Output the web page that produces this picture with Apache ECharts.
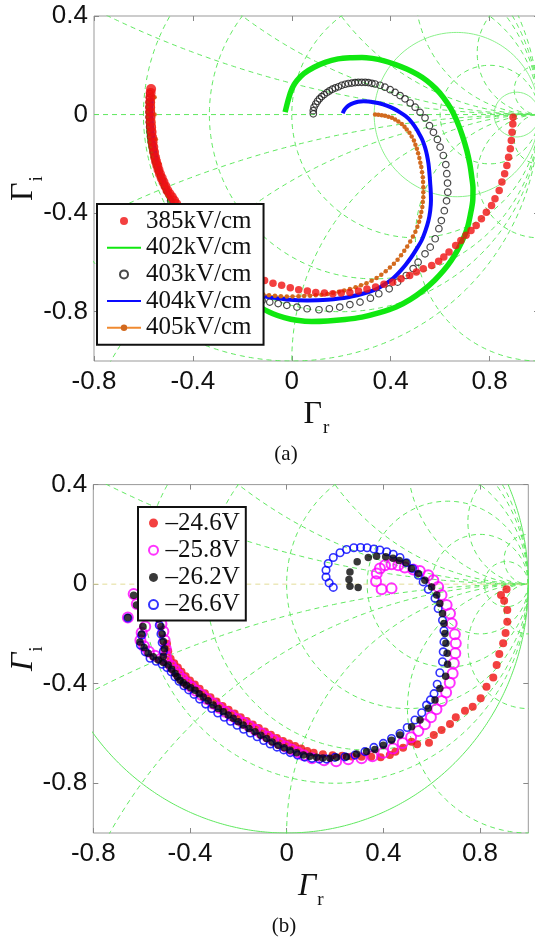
<!DOCTYPE html>
<html><head><meta charset="utf-8">
<script src="https://cdn.jsdelivr.net/npm/echarts@6/dist/echarts.min.js"></script>
<style>html,body{margin:0;padding:0;background:#fff;}#c{width:535px;height:943px;}</style>
</head><body><div id="c"></div>
<script>
// ---------- ticks / labels ----------
const xTicks = [-0.8, -0.4, 0, 0.4, 0.8];
const yTicks = [-0.8, -0.4, 0, 0.4];
const namesA = ['385kV/cm', '402kV/cm', '403kV/cm', '404kV/cm', '405kV/cm'];
const namesB = ['\u201324.6V', '\u201325.8V', '\u201326.2V', '\u201326.6V'];
const captions = ['(a)', '(b)'];
// Smith chart grid values
const smithR = [0.25, 0.5, 1, 2, 4, 10];
const smithX = [0.25, 0.5, 1, 2, 4, 10];

// ---------- panel (a) data: [Gamma_r, Gamma_i] ----------
const a385 = [[-0.569,0.104],[-0.571,0.088],[-0.572,0.07],[-0.573,0.05],[-0.573,0.03],[-0.573,0.01],[-0.572,-0.011],[-0.571,-0.031],[-0.569,-0.051],[-0.567,-0.071],[-0.565,-0.092],[-0.563,-0.112],[-0.56,-0.132],[-0.557,-0.152],[-0.553,-0.173],[-0.549,-0.19],[-0.544,-0.207],[-0.539,-0.224],[-0.533,-0.241],[-0.526,-0.258],[-0.519,-0.274],[-0.511,-0.291],[-0.503,-0.308],[-0.494,-0.322],[-0.485,-0.335],[-0.476,-0.349],[-0.467,-0.363],
[-0.44,-0.41],[-0.4,-0.47],[-0.35,-0.53],[-0.3,-0.58],[-0.25,-0.62],[-0.2,-0.648],[-0.15,-0.664],
[-0.11,-0.673],[-0.076,-0.684],[-0.041,-0.693],[-0.006,-0.703],[0.028,-0.711],[0.063,-0.716],[0.097,-0.722],[0.132,-0.724],[0.166,-0.727],[0.2,-0.724],[0.235,-0.722],[0.27,-0.716],[0.304,-0.708],[0.339,-0.7],[0.373,-0.689],[0.408,-0.68],[0.442,-0.666],[0.477,-0.653],[0.504,-0.639],[0.532,-0.626],[0.566,-0.612],[0.594,-0.595],[0.615,-0.578],[0.636,-0.558],[0.663,-0.531],[0.684,-0.511],[0.705,-0.49],[0.725,-0.47],[0.746,-0.45],[0.767,-0.423],[0.787,-0.396],[0.808,-0.369],[0.822,-0.342],[0.839,-0.308],[0.85,-0.274],[0.861,-0.24],[0.87,-0.207],[0.877,-0.173],[0.884,-0.139],[0.888,-0.105],[0.891,-0.072],[0.894,-0.038],[0.895,-0.011]];

const a402 = [[-0.576,0.06],[-0.578,0.02],[-0.578,-0.03],[-0.575,-0.092],[-0.565,-0.15],[-0.55,-0.205],[-0.53,-0.26],[-0.508,-0.31],[-0.49,-0.349],[-0.46,-0.405],[-0.42,-0.47],[-0.37,-0.545],[-0.31,-0.615],[-0.24,-0.685],[-0.17,-0.745],[-0.117,-0.788],[-0.076,-0.808],[-0.03,-0.824],[0.021,-0.835],[0.08,-0.84],[0.145,-0.838],[0.215,-0.832],[0.284,-0.822],[0.355,-0.804],[0.422,-0.781],[0.48,-0.75],[0.532,-0.713],[0.578,-0.672],[0.615,-0.632],[0.645,-0.592],[0.67,-0.551],[0.693,-0.505],[0.711,-0.457],[0.723,-0.403],[0.732,-0.349],[0.733,-0.3],[0.728,-0.254],[0.72,-0.2],[0.708,-0.146],[0.69,-0.085],[0.667,-0.024],[0.643,0.025],[0.613,0.07],[0.582,0.106],[0.546,0.138],[0.508,0.163],[0.465,0.185],[0.42,0.203],[0.37,0.219],[0.325,0.228],[0.284,0.232],[0.235,0.231],[0.187,0.226],[0.135,0.212],[0.09,0.192],[0.05,0.167],[0.021,0.138],[0.003,0.11],[-0.007,0.084],[-0.017,0.05],[-0.022,0.03],[-0.027,0.01]];

const a403 = [[0.087,0.003],[0.087,0.016],[0.09,0.03],[0.097,0.043],[0.104,0.054],[0.112,0.064],[0.121,0.073],[0.131,0.081],[0.142,0.089],[0.152,0.096],[0.164,0.103],[0.176,0.108],[0.189,0.113],[0.202,0.119],[0.216,0.123],[0.229,0.126],[0.243,0.128],[0.256,0.13],[0.269,0.131],[0.283,0.131],[0.297,0.131],[0.31,0.13],[0.324,0.127],[0.337,0.124],[0.357,0.119],[0.377,0.111],[0.398,0.101],[0.418,0.09],[0.438,0.077],[0.458,0.064],[0.479,0.047],[0.499,0.03],[0.519,0.009],[0.539,-0.013],[0.557,-0.045],[0.573,-0.072],[0.589,-0.101],[0.6,-0.132],[0.613,-0.166],[0.623,-0.203],[0.627,-0.24],[0.63,-0.278],[0.631,-0.315],[0.626,-0.35],[0.617,-0.39],[0.605,-0.43],[0.595,-0.463],[0.58,-0.504],[0.56,-0.538],[0.539,-0.565],[0.511,-0.599],[0.491,-0.625],[0.463,-0.653],[0.428,-0.68],[0.394,-0.707],[0.352,-0.727],[0.318,-0.745],[0.276,-0.761],[0.235,-0.771],[0.194,-0.781],[0.152,-0.788],[0.11,-0.792],[0.062,-0.788],[0.021,-0.781],[-0.02,-0.774],[-0.055,-0.767],[-0.089,-0.761],[-0.12,-0.755],
[-0.2,-0.72],[-0.28,-0.66],[-0.35,-0.59],[-0.41,-0.51],[-0.455,-0.43],[-0.49,-0.35],
[-0.505,-0.31],[-0.514,-0.29],[-0.522,-0.27],[-0.53,-0.25],[-0.537,-0.23],[-0.544,-0.21],[-0.55,-0.19],[-0.555,-0.17],[-0.56,-0.15],[-0.564,-0.13],[-0.568,-0.11],[-0.571,-0.09],[-0.573,-0.07],[-0.575,-0.05],[-0.576,-0.03],[-0.577,-0.01],[-0.577,0.01],[-0.577,0.03],[-0.576,0.05],[-0.575,0.068],[-0.574,0.085]];

const a404 = [[-0.566,0.07],[-0.568,0.02],[-0.566,-0.04],[-0.56,-0.1],[-0.55,-0.16],[-0.535,-0.22],[-0.515,-0.28],[-0.49,-0.34],[-0.46,-0.41],[-0.42,-0.49],[-0.36,-0.57],[-0.29,-0.64],[-0.21,-0.7],[-0.13,-0.735],[-0.089,-0.741],[-0.02,-0.75],[0.063,-0.754],[0.145,-0.751],[0.228,-0.741],[0.311,-0.72],[0.35,-0.705],[0.38,-0.686],[0.41,-0.664],[0.435,-0.639],[0.46,-0.61],[0.484,-0.578],[0.505,-0.545],[0.525,-0.511],[0.541,-0.47],[0.553,-0.43],[0.56,-0.39],[0.563,-0.349],[0.562,-0.31],[0.56,-0.281],[0.557,-0.24],[0.553,-0.2],[0.547,-0.165],[0.539,-0.133],[0.527,-0.1],[0.512,-0.072],[0.496,-0.046],[0.479,-0.024],[0.46,-0.006],[0.438,0.009],[0.412,0.024],[0.384,0.036],[0.357,0.045],[0.33,0.05],[0.31,0.053],[0.29,0.054],[0.268,0.052],[0.249,0.046],[0.233,0.039],[0.222,0.03],[0.212,0.018],[0.206,0.005]];

const a405 = [[0.337,0],[0.35,-0.001],[0.364,-0.003],[0.377,-0.005],[0.391,-0.009],[0.405,-0.013],[0.418,-0.02],[0.431,-0.028],[0.445,-0.038],[0.456,-0.049],[0.465,-0.061],[0.476,-0.074],[0.485,-0.089],[0.494,-0.105],[0.5,-0.122],[0.506,-0.139],[0.511,-0.157],[0.516,-0.176],[0.52,-0.195],[0.524,-0.213],[0.527,-0.234],[0.53,-0.254],[0.531,-0.274],[0.532,-0.295],[0.532,-0.315],[0.532,-0.335],[0.53,-0.355],[0.528,-0.375],[0.524,-0.395],[0.52,-0.415],[0.515,-0.435],[0.508,-0.455],[0.5,-0.475],[0.49,-0.495],[0.479,-0.515],[0.467,-0.535],[0.455,-0.553],[0.442,-0.571],[0.428,-0.589],[0.413,-0.605],[0.397,-0.621],[0.38,-0.636],[0.362,-0.65],[0.343,-0.663],[0.323,-0.674],[0.302,-0.684],[0.28,-0.693],[0.258,-0.701],[0.235,-0.708],[0.212,-0.714],[0.19,-0.719],[0.167,-0.724],[0.144,-0.728],[0.12,-0.731],[0.097,-0.733],[0.074,-0.735],[0.05,-0.736],[0.027,-0.737],[0.003,-0.738],[-0.02,-0.738],[-0.044,-0.737],[-0.068,-0.735],[-0.092,-0.733],[-0.115,-0.73],[-0.2,-0.7],[-0.29,-0.64],[-0.37,-0.56],[-0.43,-0.47],[-0.48,-0.37],[-0.51,-0.29],[-0.535,-0.2],[-0.55,-0.1],[-0.555,0],[-0.555,0.07]];

// ---------- panel (b) data ----------
const b246 = [[0.91,-0.021],[0.887,-0.044],[0.9,-0.067],[0.913,-0.104],[0.913,-0.151],[0.906,-0.196],[0.896,-0.238],[0.88,-0.281],[0.869,-0.325],[0.855,-0.375],[0.827,-0.412],[0.803,-0.459],[0.77,-0.493],[0.738,-0.509],[0.7,-0.535],[0.676,-0.562],[0.641,-0.586],[0.609,-0.606],[0.589,-0.637],[0.54,-0.643],[0.517,-0.633],[0.482,-0.657],[0.45,-0.674],[0.427,-0.687],[0.389,-0.696],[0.35,-0.694],[0.31,-0.694],[0.27,-0.693],[0.23,-0.69],[0.19,-0.688],[0.15,-0.684],[0.112,-0.678],
[0.085,-0.67],[0.06,-0.66],[0.035,-0.65],[0.01,-0.64],[-0.015,-0.63],[-0.04,-0.618],[-0.065,-0.605],[-0.09,-0.592],[-0.115,-0.578],[-0.14,-0.564],[-0.165,-0.55],[-0.19,-0.535],[-0.215,-0.52],[-0.24,-0.505],[-0.265,-0.49],[-0.29,-0.472],[-0.315,-0.455],[-0.338,-0.438],[-0.36,-0.42],[-0.38,-0.403],[-0.4,-0.387],[-0.418,-0.37],[-0.435,-0.352],[-0.45,-0.335],[-0.465,-0.318],[-0.48,-0.3],[-0.49,-0.27],[-0.495,-0.24]];

const b258 = [[0.434,-0.017],[0.393,-0.021],[0.37,0.012],[0.373,0.043],[0.386,0.063],[0.407,0.076],[0.434,0.08],[0.462,0.076],[0.489,0.067],[0.524,0.059],[0.551,0.053],[0.586,0.036],[0.607,0.016],[0.627,-0.011],[0.641,-0.044],[0.662,-0.084],[0.676,-0.118],[0.683,-0.158],[0.696,-0.201],[0.7,-0.238],[0.698,-0.278],[0.692,-0.318],[0.687,-0.359],[0.675,-0.396],[0.66,-0.435],[0.642,-0.47],[0.62,-0.503],[0.597,-0.535],[0.572,-0.563],[0.545,-0.59],[0.515,-0.615],[0.48,-0.638],[0.44,-0.66],[0.4,-0.678],[0.355,-0.692],[0.31,-0.7],[0.255,-0.704],[0.205,-0.712],[0.155,-0.708],[0.105,-0.7],
[0.07,-0.688],[0.045,-0.676],[0.02,-0.664],[-0.005,-0.652],[-0.03,-0.64],[-0.055,-0.627],[-0.08,-0.613],[-0.105,-0.6],[-0.13,-0.585],[-0.155,-0.571],[-0.18,-0.557],[-0.205,-0.543],[-0.23,-0.528],[-0.255,-0.513],[-0.28,-0.497],[-0.305,-0.48],[-0.33,-0.462],[-0.352,-0.445],[-0.375,-0.428],[-0.395,-0.412],[-0.415,-0.396],[-0.432,-0.38],[-0.448,-0.362],[-0.462,-0.345],[-0.478,-0.328],[-0.495,-0.31],[-0.52,-0.3],[-0.545,-0.288],[-0.57,-0.272],[-0.59,-0.25],[-0.605,-0.225],
[-0.6,-0.195],[-0.585,-0.17],[-0.5,-0.29],[-0.5,-0.26],[-0.505,-0.225],[-0.51,-0.19],[-0.518,-0.16],[-0.525,-0.13],[-0.633,-0.04],[-0.62,-0.08],[-0.657,-0.134]];

const b262 = [[0.296,-0.013],[0.262,-0.008],[0.258,0.019],[0.262,0.049],[0.292,0.09],[0.338,0.107],[0.372,0.112],[0.41,0.11],[0.44,0.104],[0.466,0.095],[0.494,0.086],[0.517,0.063],[0.545,0.043],[0.572,0.016],[0.6,-0.011],[0.621,-0.044],[0.634,-0.078],[0.645,-0.118],[0.651,-0.158],[0.655,-0.198],[0.659,-0.238],[0.664,-0.278],[0.666,-0.322],[0.658,-0.37],[0.634,-0.419],[0.614,-0.466],[0.586,-0.499],[0.552,-0.546],[0.517,-0.573],[0.469,-0.606],[0.434,-0.627],[0.4,-0.647],[0.365,-0.664],[0.331,-0.673],[0.29,-0.683],[0.248,-0.694],[0.207,-0.696],
[0.179,-0.7],[0.15,-0.699],[0.124,-0.696],[0.096,-0.692],[0.069,-0.687],[0.041,-0.678],[0.014,-0.667],[-0.01,-0.657],[-0.035,-0.647],[-0.06,-0.634],[-0.083,-0.62],[-0.107,-0.607],[-0.131,-0.593],[-0.156,-0.58],[-0.18,-0.566],[-0.2,-0.553],[-0.221,-0.539],[-0.242,-0.526],[-0.262,-0.513],[-0.283,-0.5],[-0.304,-0.486],[-0.325,-0.469],[-0.345,-0.453],[-0.362,-0.44],[-0.379,-0.426],[-0.397,-0.416],[-0.414,-0.406],[-0.428,-0.396],[-0.441,-0.386],[-0.452,-0.372],[-0.462,-0.359],[-0.476,-0.342],[-0.49,-0.325],[-0.51,-0.315],[-0.531,-0.305],[-0.552,-0.292],[-0.573,-0.278],[-0.59,-0.255],[-0.607,-0.232],
[-0.6,-0.2],[-0.595,-0.17],[-0.51,-0.29],[-0.505,-0.26],[-0.51,-0.23],[-0.515,-0.2],[-0.52,-0.17],[-0.53,-0.14],[-0.621,-0.084],[-0.633,-0.045],[-0.657,-0.134]];

const b266 = [[0.193,-0.013],[0.176,0.005],[0.163,0.029],[0.163,0.056],[0.172,0.083],[0.193,0.107],[0.221,0.126],[0.248,0.139],[0.278,0.146],[0.306,0.147],[0.333,0.146],[0.361,0.141],[0.386,0.137],[0.414,0.13],[0.441,0.12],[0.469,0.107],[0.496,0.086],[0.521,0.063],[0.545,0.036],[0.565,0.009],[0.586,-0.021],[0.614,-0.057],[0.627,-0.098],[0.645,-0.145],[0.651,-0.187],[0.651,-0.232],[0.648,-0.272],[0.645,-0.312],[0.634,-0.356],[0.623,-0.402],[0.61,-0.44],[0.595,-0.465],[0.579,-0.486],[0.559,-0.517],[0.531,-0.546],[0.499,-0.576],[0.469,-0.6],[0.434,-0.62],[0.4,-0.64],[0.361,-0.656],[0.324,-0.673],[0.283,-0.687],[0.241,-0.694],[0.2,-0.696],
[0.165,-0.703],[0.135,-0.703],[0.105,-0.7],[0.075,-0.695],[0.045,-0.687],[0.015,-0.677],[-0.012,-0.666],[-0.04,-0.655],[-0.068,-0.642],[-0.095,-0.628],[-0.122,-0.613],[-0.15,-0.598],[-0.178,-0.583],[-0.205,-0.567],[-0.232,-0.551],[-0.258,-0.535],[-0.285,-0.518],[-0.31,-0.5],[-0.335,-0.482],[-0.36,-0.462],[-0.383,-0.443],[-0.405,-0.425],[-0.425,-0.408],[-0.445,-0.39],[-0.462,-0.372],[-0.478,-0.352],[-0.495,-0.335],[-0.515,-0.322],[-0.54,-0.31],[-0.565,-0.298],[-0.585,-0.272],[-0.605,-0.245],
[-0.6,-0.205],[-0.51,-0.27],[-0.515,-0.235],[-0.52,-0.2],[-0.527,-0.165],[-0.657,-0.136]];

// ---------- Smith chart grid (background coordinate lines) ----------
const BOX = [-0.85, 1.06, -1.06, 0.46];
function circlePts(cx, cy, R) {
  const n = Math.max(200, Math.ceil(2 * Math.PI * R / 0.005));
  const out = []; let prevIn = false;
  for (let i = 0; i <= n; i++) {
    const t = 2 * Math.PI * i / n;
    const x = cx + R * Math.cos(t), y = cy + R * Math.sin(t);
    const inside = x >= BOX[0] && x <= BOX[1] && y >= BOX[2] && y <= BOX[3];
    if (inside) { out.push([x, y]); prevIn = true; }
    else { if (prevIn) out.push(['-', '-']); prevIn = false; }
  }
  out.push(['-', '-']);
  return out;
}
function rCircle(r) { return [r / (1 + r), 0, 1 / (1 + r)]; }
function xCircles(x) { return [[1, 1 / x, 1 / x], [1, -1 / x, 1 / x]]; }
function gridSeries(xi, yi, circles, color, dashed) {
  let data = [];
  circles.forEach(c => { data = data.concat(circlePts(c[0], c[1], c[2])); });
  return { type: 'line', xAxisIndex: xi, yAxisIndex: yi, data, symbol: 'none', silent: true, z: 1,
    animation: false, connectNulls: false, clip: true,
    lineStyle: { color, width: 1, type: dashed ? [5, 4] : 'solid' } };
}
const GREEN = '#5fe85f';
const xArcs = [];
smithX.forEach(x => xCircles(x).forEach(c => xArcs.push(c)));

const gridA_dash = gridSeries(0, 0, [[0, 0, 1]].concat(smithR.filter(r => r !== 2 && r !== 10).map(rCircle), xArcs), GREEN, true);
const gridA_solid = gridSeries(0, 0, [2, 10].map(rCircle), '#8af08a', false);
const gridB_dash = gridSeries(2, 2, smithR.map(rCircle).concat(xArcs), GREEN, true);
const gridB_solid = gridSeries(2, 2, [[0, 0, 1]], GREEN, false);
const axisA0 = { type: 'line', xAxisIndex: 0, yAxisIndex: 0, data: [[-0.8, 0], [1.0, 0]], symbol: 'none', silent: true, z: 1,
  lineStyle: { color: GREEN, width: 1, type: [5, 4] } };
const axisB0 = { type: 'line', xAxisIndex: 2, yAxisIndex: 2, data: [[-0.8, 0], [1.0, 0]], symbol: 'none', silent: true, z: 1,
  lineStyle: { color: '#e2dc98', width: 1, type: [5, 4] } };

// ---------- axes ----------
const labelFont = { fontFamily: 'Liberation Sans', fontSize: 26, color: '#111' };
const tickStyle = { inside: true, length: 5, lineStyle: { color: '#888', width: 1 } };
function nameRich(italic) {
  return { rich: {
    g: { fontFamily: 'Liberation Serif', fontSize: 32, fontStyle: italic ? 'italic' : 'normal', color: '#111' },
    s: { fontFamily: 'Liberation Serif', fontSize: 19, color: '#111', verticalAlign: 'bottom', padding: [0, 0, -7, 1] } } };
}
function xAx(gi, pos, withLabel, nm, italic) {
  return { type: 'value', gridIndex: gi, position: pos, min: -0.8, max: 1.0,
    axisLine: { show: false, onZero: false }, splitLine: { show: false },
    axisTick: Object.assign({ customValues: xTicks }, tickStyle),
    axisLabel: Object.assign({ show: withLabel, customValues: xTicks, margin: 8 }, labelFont),
    name: nm || '', nameLocation: 'middle', nameGap: 38, nameMoveOverlap: false, nameTextStyle: nameRich(italic) };
}
function yAx(gi, pos, withLabel, nm, italic) {
  return { type: 'value', gridIndex: gi, position: pos, min: -1.0, max: 0.4,
    axisLine: { show: false, onZero: false }, splitLine: { show: false },
    axisTick: Object.assign({ customValues: yTicks }, tickStyle),
    axisLabel: Object.assign({ show: withLabel, customValues: yTicks, margin: 6 }, labelFont),
    name: nm || '', nameLocation: 'middle', nameGap: 54, nameMoveOverlap: false, nameTextStyle: nameRich(italic) };
}

const legendText = { fontFamily: 'Liberation Serif', fontSize: 25, color: '#111', lineHeight: 26 };

const option = {
  animation: false,
  backgroundColor: '#fff',
  grid: [
    { left: 94, top: 16, width: 445, height: 345, show: true, borderColor: '#999', borderWidth: 1, backgroundColor: 'transparent', containLabel: false, outerBoundsMode: 'none' },
    { left: 93.3, top: 484.6, width: 435, height: 348.4, show: true, borderColor: '#999', borderWidth: 1, backgroundColor: 'transparent', containLabel: false, outerBoundsMode: 'none' }
  ],
  xAxis: [ xAx(0, 'bottom', true, '{g|Γ}{s|r}', false), xAx(0, 'top', false),
           xAx(1, 'bottom', true, '{g|Γ}{s|r}', true), xAx(1, 'top', false) ],
  yAxis: [ yAx(0, 'left', true, '{g|Γ}{s|i}', false), yAx(0, 'right', false),
           yAx(1, 'left', true, '{g|Γ}{s|i}', true), yAx(1, 'right', false) ],
  legend: [
    { left: 97, top: 204, orient: 'vertical', padding: [4, 12, 4, 9], itemWidth: 34, itemHeight: 8, itemGap: 0.7,
      backgroundColor: '#fff', borderColor: '#111', borderWidth: 2, selectedMode: false, z: 20,
      textStyle: legendText,
      data: [ { name: namesA[0] },
              { name: namesA[1], itemStyle: { opacity: 0 } },
              { name: namesA[2] },
              { name: namesA[3], itemStyle: { opacity: 0 } },
              { name: namesA[4] } ] },
    { left: 138, top: 507, orient: 'vertical', padding: [3, 6, 3, 10], itemWidth: 14, itemHeight: 9, itemGap: 1.2,
      backgroundColor: '#fff', borderColor: '#111', borderWidth: 2, selectedMode: false, z: 20,
      textStyle: legendText,
      data: namesB.map(n => ({ name: n })) }
  ],
  graphic: [
    { type: 'text', x: 286, y: 454, z: 30, style: { text: captions[0], fontFamily: 'Liberation Serif', fontSize: 21, fill: '#111', align: 'center', verticalAlign: 'middle', textAlign: 'center', textVerticalAlign: 'middle' } },
    { type: 'text', x: 284, y: 926, z: 30, style: { text: captions[1], fontFamily: 'Liberation Serif', fontSize: 21, fill: '#111', align: 'center', verticalAlign: 'middle', textAlign: 'center', textVerticalAlign: 'middle' } }
  ],
  series: [
    gridA_dash, gridA_solid, axisA0, gridB_dash, gridB_solid, axisB0,
    // panel a
    { name: namesA[1], type: 'line', xAxisIndex: 0, yAxisIndex: 0, data: a402, symbol: 'none', smooth: 0.3, z: 3,
      lineStyle: { color: '#10e810', width: 5.5 }, itemStyle: { color: '#10e810' } },
    { name: namesA[2], type: 'scatter', xAxisIndex: 0, yAxisIndex: 0, data: a403, symbol: 'circle', symbolSize: 6.5, z: 4,
      itemStyle: { color: 'rgba(255,255,255,0)', borderColor: '#1a1a1a', borderWidth: 1.2 } },
    { name: namesA[3], type: 'line', xAxisIndex: 0, yAxisIndex: 0, data: a404, symbol: 'none', smooth: 0.3, z: 5,
      lineStyle: { color: '#0a0aff', width: 4 }, itemStyle: { color: '#0a0aff' } },
    { name: namesA[4], type: 'line', xAxisIndex: 0, yAxisIndex: 0, data: a405, symbol: 'circle', symbolSize: 4.5, showSymbol: true, z: 6,
      lineStyle: { color: '#f08a30', width: 1 }, itemStyle: { color: '#d2691e' } },
    { name: namesA[0], type: 'scatter', xAxisIndex: 0, yAxisIndex: 0, data: a385, symbol: 'circle', z: 7,
      symbolSize: (v, p) => (p.dataIndex < 27 ? 10 : 7.5), itemStyle: { color: '#f01010' } },
    // panel b
    { name: namesB[0], type: 'scatter', xAxisIndex: 2, yAxisIndex: 2, data: b246, symbol: 'circle', symbolSize: 8, z: 3,
      itemStyle: { color: '#f01010' } },
    { name: namesB[1], type: 'scatter', xAxisIndex: 2, yAxisIndex: 2, data: b258, symbol: 'circle', symbolSize: 10, z: 4,
      itemStyle: { color: 'rgba(255,255,255,0)', borderColor: '#ff00ff', borderWidth: 2 } },
    { name: namesB[3], type: 'scatter', xAxisIndex: 2, yAxisIndex: 2, data: b266, symbol: 'circle', symbolSize: 7.5, z: 5,
      itemStyle: { color: 'rgba(255,255,255,0)', borderColor: '#0000ff', borderWidth: 1.6 } },
    { name: namesB[2], type: 'scatter', xAxisIndex: 2, yAxisIndex: 2, data: b262, symbol: 'circle', symbolSize: 7.5, z: 6,
      itemStyle: { color: '#080808' } }
  ]
};
const chart = echarts.init(document.getElementById('c'), null, { renderer: 'canvas' });
chart.setOption(option);
</script>
</body></html>
